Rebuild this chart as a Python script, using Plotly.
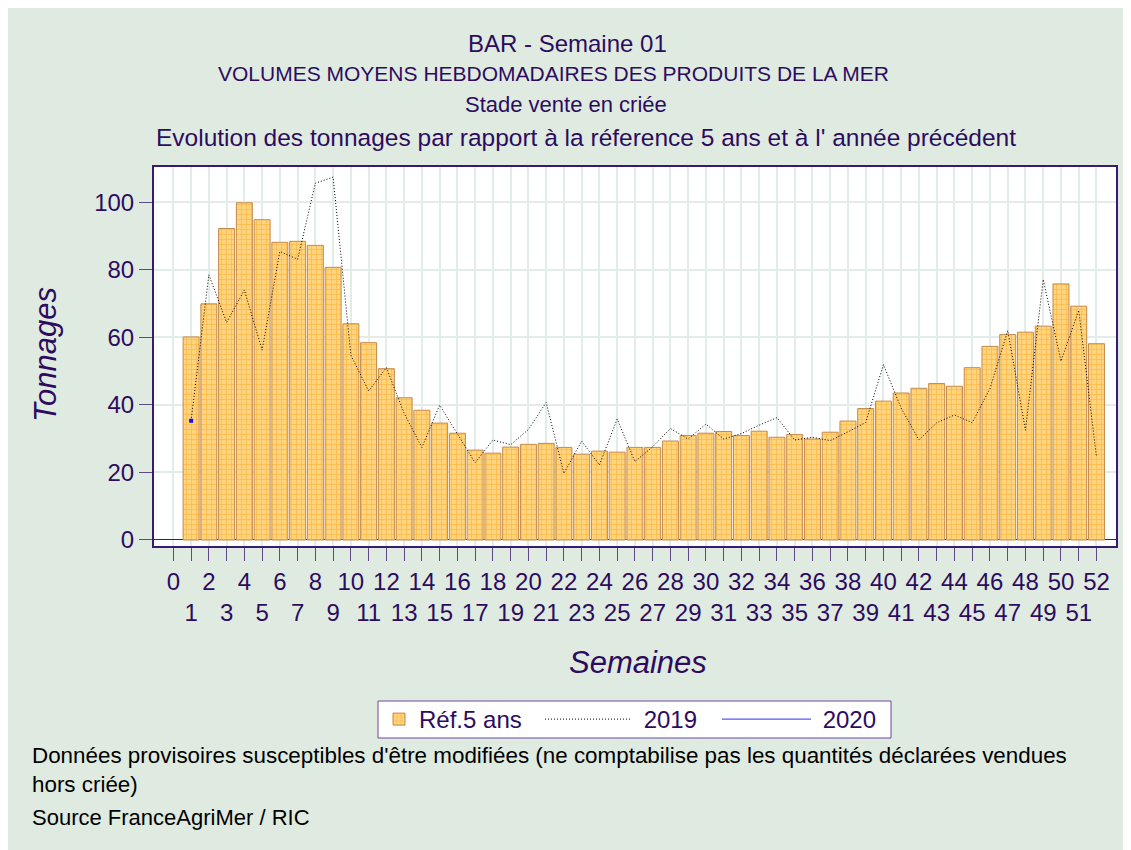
import plotly.graph_objects as go

weeks = list(range(1, 53))
ref5 = [60.1, 69.9, 92.2, 99.8, 94.8, 88.1, 88.4, 87.2, 80.7, 64.0,
        58.4, 50.7, 42.1, 38.4, 34.6, 31.6, 26.6, 25.7, 27.5, 28.3,
        28.6, 27.4, 25.4, 26.3, 26.0, 27.4, 27.4, 29.3, 30.9, 31.6,
        32.1, 30.9, 32.2, 30.4, 31.2, 29.9, 31.9, 35.2, 38.9, 41.1,
        43.5, 44.9, 46.3, 45.5, 51.0, 57.3, 60.8, 61.5, 63.3, 75.8,
        69.2, 58.1]
y2019 = [35.3, 78.5, 64.4, 74.0, 56.2, 85.4, 83.1, 105.6, 107.4, 54.7,
         44.1, 51.0, 37.5, 27.4, 39.9, 31.5, 22.9, 29.6, 28.2, 32.7,
         40.7, 19.7, 29.3, 22.2, 35.8, 23.2, 27.6, 33.0, 29.9, 34.3,
         29.9, 31.5, 34.0, 36.2, 29.6, 30.4, 29.4, 32.0, 34.8, 51.9,
         39.0, 29.6, 34.7, 37.0, 34.7, 44.8, 62.0, 32.5, 77.1, 52.9,
         68.0, 24.6]
weeks2020 = [1]
y2020 = [35.3]

tick_weeks = list(range(0, 53))
tick_text = [str(w) if w % 2 == 0 else "<br>" + str(w) for w in tick_weeks]

title_lines = [
    "BAR - Semaine 01",
    "VOLUMES MOYENS HEBDOMADAIRES DES PRODUITS DE LA MER",
    "Stade vente en criée",
    "Evolution des tonnages par rapport à la réference 5 ans et à l' année précédent",
]
footer_note = ("Données provisoires susceptibles d'être modifiées (ne comptabilise pas les quantités déclarées vendues"
               "<br>hors criée)")
footer_source = "Source FranceAgriMer / RIC"

W, H = 1131, 850
OFF = 8  # page offset of the figure
L, R, T, B = 146, 1108, 159, 538  # plot area in figure pixels
PURPLE = "#2E0B5E"
FONT = "Liberation Sans, Arial, sans-serif"
NB = "\u00a0"


def px(x):  # page pixel -> paper
    return (x - OFF - L) / (R - L)


def py(y):
    return (B - (y - OFF)) / (B - T)


fig = go.Figure()
fig.add_trace(go.Bar(
    x=weeks, y=ref5, name="Réf.5 ans", legend="legend",
    marker=dict(color="#FFD47F",
                line=dict(color="#C48A4C", width=1),
                pattern=dict(shape="+", fgcolor="#F8A012", size=5, solidity=0.28)),
))
fig.add_trace(go.Scatter(
    x=weeks, y=y2019, name=NB + "2019", mode="lines", legend="legend2",
    line=dict(color="black", width=1, dash="1px,2px"),
))
fig.add_trace(go.Scatter(
    x=weeks2020, y=y2020, name=NB + "2020", mode="lines", legend="legend3",
    line=dict(color="#2B2BFF", width=1),
))
fig.add_trace(go.Scatter(
    x=weeks2020, y=y2020, mode="markers", showlegend=False,
    marker=dict(color="#1010FF", symbol="square", size=4),
))

annotations = []
title_pos = [(567, 44, 24), (553, 73, 21), (566, 104, 22), (586, 137, 24.5)]
for text, (cx, cy, fs) in zip(title_lines, title_pos):
    annotations.append(dict(text=text, x=px(cx), y=py(cy), xref="paper", yref="paper",
                            xanchor="center", yanchor="middle", showarrow=False,
                            font=dict(family=FONT, size=fs, color=PURPLE)))
annotations.append(dict(text=footer_note, x=px(30), y=py(770), xref="paper", yref="paper",
                        xanchor="left", yanchor="middle", align="left", showarrow=False,
                        font=dict(family=FONT, size=22.4, color="black")))
annotations.append(dict(text=footer_source, x=px(30), y=py(817), xref="paper", yref="paper",
                        xanchor="left", yanchor="middle", showarrow=False,
                        font=dict(family=FONT, size=22, color="black")))
annotations.append(dict(text="<i>Tonnages</i>", x=px(45), y=py(355), xref="paper", yref="paper",
                        xanchor="center", yanchor="middle", showarrow=False, textangle=-90,
                        font=dict(family=FONT, size=31, color=PURPLE)))
annotations.append(dict(text="<i>Semaines</i>", x=px(638), y=py(662), xref="paper", yref="paper",
                        xanchor="center", yanchor="middle", showarrow=False,
                        font=dict(family=FONT, size=31, color=PURPLE)))

shapes = [
    dict(type="rect", xref="paper", yref="paper", x0=px(378), x1=px(891), y0=py(738), y1=py(701),
         fillcolor="white", line=dict(color="#6A4A9A", width=1), layer="below"),
]

leg_common = dict(orientation="h", yanchor="middle", y=py(719.5), xanchor="left",
                  bgcolor="rgba(0,0,0,0)", borderwidth=0,
                  font=dict(family=FONT, size=24, color=PURPLE))

fig.update_layout(
    width=W, height=H,
    margin=dict(l=L, r=W - R, t=T, b=H - B, pad=0),
    paper_bgcolor="#DFEBE1",
    plot_bgcolor="white",
    bargap=0.1,
    showlegend=True,
    legend=dict(x=px(379), itemwidth=30, **leg_common),
    legend2=dict(x=px(540), itemwidth=87, **leg_common),
    legend3=dict(x=px(717), itemwidth=89, **leg_common),
    annotations=annotations,
    shapes=shapes,
    xaxis=dict(range=[-1.09, 53.1], tickvals=tick_weeks, ticktext=tick_text, tickangle=0,
               showgrid=True, gridcolor="#E3ECE6", gridwidth=2,
               showline=True, linecolor="#3A1A6E", linewidth=2, mirror=True,
               ticks="outside", ticklen=13, tickcolor="#5E4A86", tickwidth=1,
               tickfont=dict(family=FONT, size=24, color=PURPLE),
               zeroline=False),
    yaxis=dict(range=[-1.78, 110.4], tickvals=[0, 20, 40, 60, 80, 100],
               showgrid=True, gridcolor="#E3ECE6", gridwidth=2,
               showline=True, linecolor="#3A1A6E", linewidth=2, mirror=True,
               ticks="outside", ticklen=13, tickcolor="#5E4A86", tickwidth=1,
               tickfont=dict(family=FONT, size=24, color=PURPLE),
               zeroline=True, zerolinecolor="#3A1A6E", zerolinewidth=1),
    font=dict(family=FONT, color=PURPLE),
)

fig.write_html("out.html")
